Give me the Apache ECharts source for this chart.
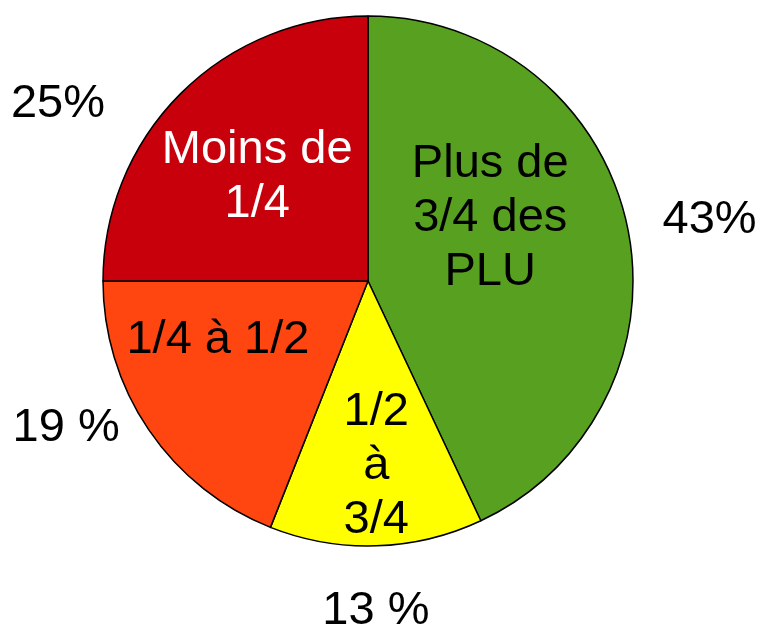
<!DOCTYPE html>
<html>
<head>
<meta charset="utf-8">
<script src="https://cdn.jsdelivr.net/npm/echarts@6/dist/echarts.min.js"></script>
<style>html,body{margin:0;padding:0;background:#fff;}#main{width:760px;height:630px;}</style>
</head>
<body>
<div id="main"></div>
<script>
const categories = ['Plus de\n3/4 des\nPLU', '1/2\nà\n3/4', '1/4 à 1/2', 'Moins de\n1/4'];
const values = [43, 13, 19, 25];
const percentLabels = ['43%', '13 %', '19 %', '25%'];

const colors = ['#58a01f', '#ffff00', '#ff4510', '#c8000b'];
const innerTextColors = ['#000', '#000', '#000', '#fff'];
const innerOffsets = [[-10, -33], [4, 50], [-38, -17], [-15, -8]];
const outerOffsets = [[2, 15], [-3, -18], [-14, -49], [-64, 69]];

const chart = echarts.init(document.getElementById('main'), null, {renderer: 'canvas'});
const font = 'Liberation Sans, Arial, sans-serif';

chart.setOption({
  animation: false,
  series: [
    {
      type: 'pie',
      center: [368, 281],
      radius: [0, 265],
      startAngle: 90,
      clockwise: true,
      silent: true,
      data: values.map((v, i) => ({
        value: v,
        name: categories[i],
        itemStyle: {color: colors[i]},
        label: {color: innerTextColors[i]}
      })),
      itemStyle: {borderColor: '#000', borderWidth: 1.5},
      label: {
        show: true,
        position: 'inside',
        formatter: '{b}',
        fontFamily: font,
        fontSize: 47,
        lineHeight: 54,
        align: 'center'
      },
      labelLine: {show: false},
      labelLayout: (p) => ({dx: innerOffsets[p.dataIndex][0], dy: innerOffsets[p.dataIndex][1]})
    },
    {
      type: 'pie',
      center: [368, 281],
      radius: [300, 390],
      startAngle: 90,
      clockwise: true,
      silent: true,
      data: values.map((v, i) => ({value: v, name: percentLabels[i]})),
      itemStyle: {color: 'rgba(0,0,0,0)', borderWidth: 0},
      label: {
        show: true,
        position: 'inside',
        formatter: '{b}',
        color: '#000',
        fontFamily: font,
        fontSize: 47
      },
      labelLine: {show: false},
      labelLayout: (p) => ({dx: outerOffsets[p.dataIndex][0], dy: outerOffsets[p.dataIndex][1]})
    }
  ]
});
</script>
</body>
</html>
